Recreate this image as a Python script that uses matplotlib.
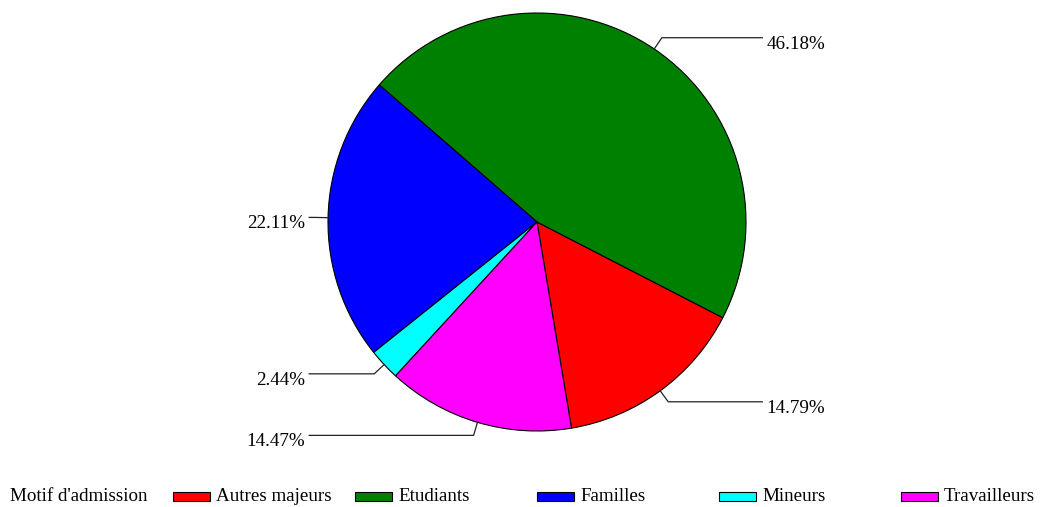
import numpy as np
import matplotlib
matplotlib.use("Agg")
import matplotlib.pyplot as plt
from matplotlib.patches import Rectangle

categories = ["Autres majeurs", "Etudiants", "Familles", "Mineurs", "Travailleurs"]
values = [14.79, 46.18, 22.11, 2.44, 14.47]
colors = ["#FF0000", "#008000", "#0000FF", "#00FFFF", "#FF00FF"]
legend_title = "Motif d'admission"

plt.rcParams['font.family'] = ['Liberation Serif', 'DejaVu Serif']
FS = 13.7

W, H = 1040, 507
fig = plt.figure(figsize=(W / 100, H / 100), dpi=100)
ax = fig.add_axes([0, 0, 1, 1])

# pixel geometry of the pie
cx, cy, R = 537, 222, 209
start = -80.5

ax.pie(values, colors=colors, startangle=start, counterclock=True, radius=1,
       wedgeprops=dict(edgecolor="black", linewidth=0.8))
ax.set_xlim(-cx / R, (W - cx) / R)
ax.set_ylim((cy - H) / R, cy / R)
ax.set_aspect('auto')
ax.axis('off')

total = sum(values)
cum = np.cumsum([0] + values[:-1])
r_elbow = 1.065
for v, c0 in zip(values, cum):
    mid = np.deg2rad(start + (c0 + v / 2) / total * 360)
    ex, ey = np.cos(mid), np.sin(mid)
    bx, by = r_elbow * np.cos(mid), r_elbow * np.sin(mid)
    side = 1 if ex > 0 else -1
    lx = 1.078 if side > 0 else -1.09
    ax.plot([ex, bx, lx], [ey, by, by], color="#222222", lw=0.9)
    ax.text(lx + side * 4 / R, by - 11 / R, f"{v:.2f}%",
            ha='left' if side > 0 else 'right', va='baseline', fontsize=FS)

# legend drawn along the bottom
base_y = (H - 501) / H
fig.text(10 / W, base_y, legend_title, ha='left', va='baseline', fontsize=FS)
x0, step = 173, 182.
for i, (name, col) in enumerate(zip(categories, colors)):
    px = x0 + i * step
    fig.add_artist(Rectangle((px / W, (H - 501) / H), 37 / W, 9 / H,
                             facecolor=col, edgecolor='black', lw=0.8,
                             transform=fig.transFigure))
    fig.text((px + 43) / W, base_y, name, ha='left', va='baseline', fontsize=FS)

fig.savefig("out.png", dpi=100)
